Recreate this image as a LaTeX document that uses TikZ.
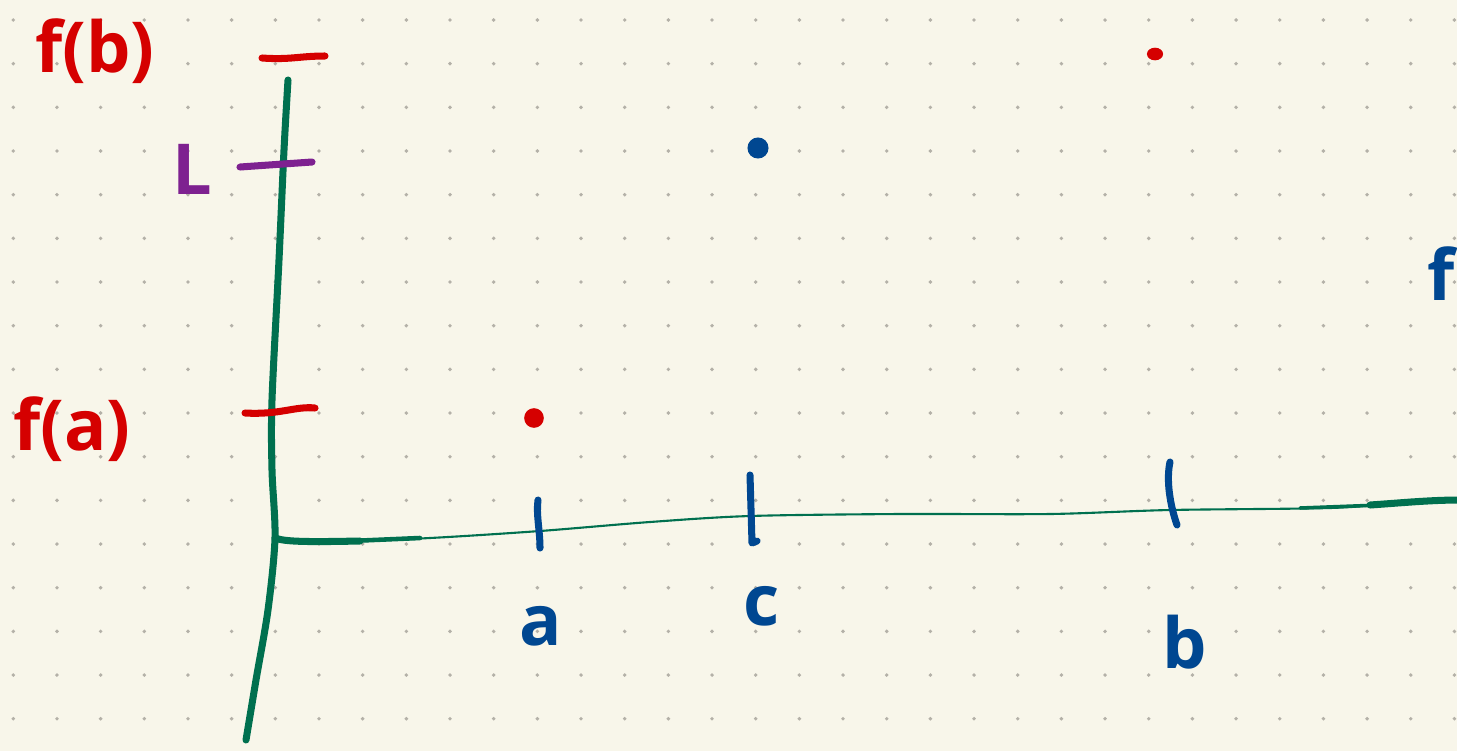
\documentclass[tikz,border=0pt]{standalone}
\usepackage{fontspec}
\setmainfont{Open Sans}
\definecolor{paper}{HTML}{F8F6EA}
\definecolor{dotgray}{HTML}{B4B1A8}
\definecolor{penred}{HTML}{D50000}
\definecolor{pengreen}{HTML}{00704F}
\definecolor{penblue}{HTML}{004791}
\definecolor{penpurple}{HTML}{7E2190}

\begin{document}
\begin{tikzpicture}[x=0.02cm, y=-0.02cm,
        pen/.style={line width=4pt, line cap=round, line join=round},
        fine/.style={line width=1.2pt, line cap=round, line join=round},
        lab/.style={anchor=base, inner sep=0pt, font=\fontsize{40}{48}\selectfont\bfseries}
      ]
      \fill[paper] (0,0) rectangle (1457,751);
      \useasboundingbox (0,0) rectangle (1457,751);
      \foreach \i in {0,...,33}
        \foreach \j in {0,...,16}
          \fill[dotgray] (13.3+43.67*\i, 20+43.67*\j) circle (1.1pt);

      \draw[pen, pengreen] plot[smooth] coordinates {(288,80) (284,150) (279,260) (272,400) (272,470) (275,538) (268,610) (256,680) (246,740)};
      \draw[fine, pengreen] plot[smooth] coordinates {(275,538) (330,542) (430,538) (540,531) (650,522) (750,516) (900,514) (1050,514) (1170,510) (1330,508) (1400,503) (1457,500)};
      \draw[pen, pengreen] (275,538) .. controls (285,542) and (310,542) .. (360,541);
      \draw[pengreen, line width=2.6pt, line cap=round] (350,541) -- (420,538);
      \draw[pengreen, line width=2pt, line cap=round] (1300,508) -- (1380,505);
      \draw[pen, pengreen] (1370,505) .. controls (1400,503) and (1430,500) .. (1460,500);

      \draw[pen, penred] (262,58) .. controls (290,60) and (300,56) .. (325,56);
      \draw[pen, penred] (245,413) .. controls (280,415) and (295,406) .. (315,408);
      \draw[pen, penpurple] (240,167) -- (312,162);

      \draw[pen, penblue] (538,500) .. controls (536,515) and (540,530) .. (540,548);
      \draw[pen, penblue] (750,475) -- (752,543) -- (757,541);
      \draw[pen, penblue] (1170,462) .. controls (1166,480) and (1170,505) .. (1177,525);

      \fill[penred] (534,418) circle (5.6pt);
      \fill[penred] (1155,54) ellipse [x radius=4.6pt, y radius=3.6pt];
      \fill[penblue] (758,148) circle (6pt);

      \node[lab, penred] (fb) at (95,72) {f(b)};
      \node[lab, penred] (fa) at (72,450) {f(a)};
      \node[lab, penpurple] (lL) at (192,194) {L};
      \node[lab, penblue] (la) at (541,645) {a};
      \node[lab, penblue] (lc) at (762,625) {c};
      \node[lab, penblue] (lb) at (1185,668) {b};
      \node[lab, penblue, anchor=base east] (lf) at (1455,300) {f};
    \end{tikzpicture}
\end{document}
